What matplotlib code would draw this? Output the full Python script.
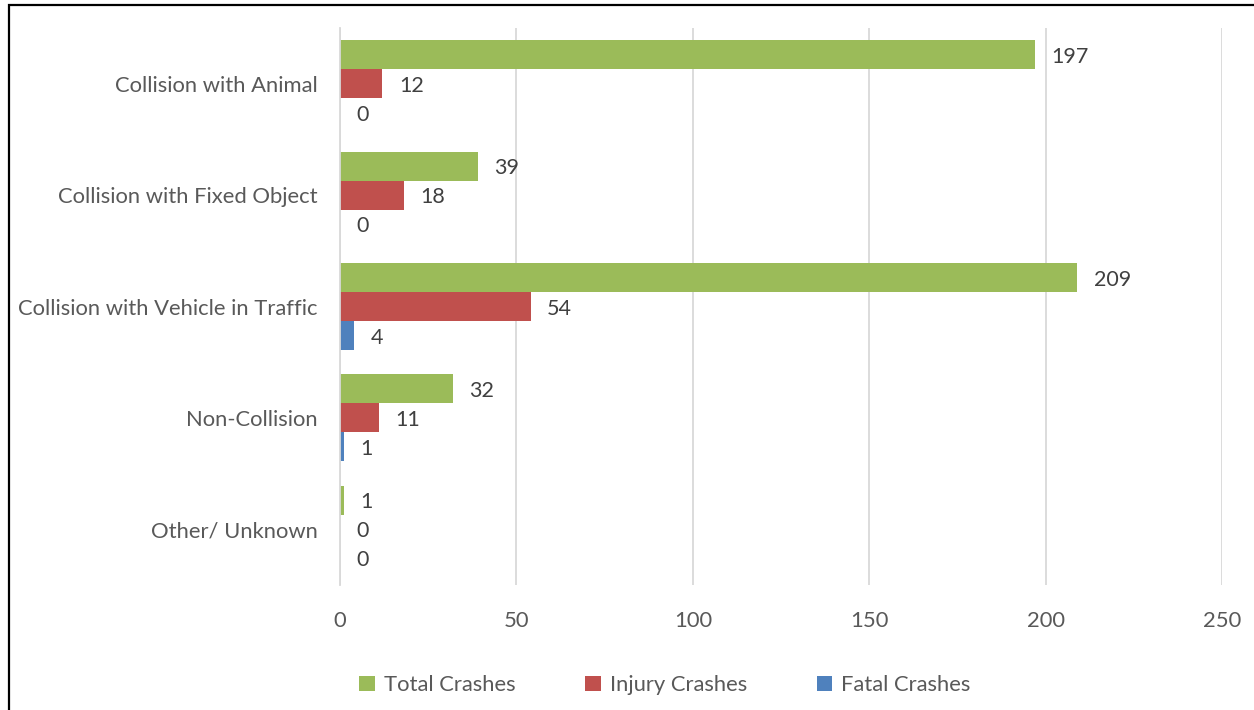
import numpy as np
import matplotlib.pyplot as plt
from matplotlib.patches import Rectangle

categories = ['Collision with Animal', 'Collision with Fixed Object',
              'Collision with Vehicle in Traffic', 'Non-Collision', 'Other/ Unknown']
total_crashes = [197, 39, 209, 32, 1]
injury_crashes = [12, 18, 54, 11, 0]
fatal_crashes = [0, 0, 4, 1, 0]
series_names = ['Total Crashes', 'Injury Crashes', 'Fatal Crashes']
colors = ['#9BBB59', '#C0504D', '#4F81BD']
xticks = [0, 50, 100, 150, 200, 250]

plt.rcParams['font.family'] = ['Lato', 'DejaVu Sans']

W, H = 1254, 710
fig = plt.figure(figsize=(W / 100, H / 100), dpi=100)
ax = fig.add_axes([340 / W, 1 - 585 / H, (1222 - 340) / W, (585 - 28) / H])

y = np.arange(len(categories))
bh = 0.26
series = [total_crashes, injury_crashes, fatal_crashes]
for i, (vals, name, c) in enumerate(zip(series, series_names, colors)):
    pos = y + (i - 1) * bh
    ax.barh(pos, vals, height=bh, color=c, label=name)
    for p, v in zip(pos, vals):
        ax.annotate(str(v), (v, p), xytext=(12, -1.5), textcoords='offset points',
                    va='center', ha='left', fontsize=15.5, color='#404040')

ax.set_ylim(len(categories) - 0.5, -0.5)
ax.set_xlim(0, 250)
ax.set_xticks(xticks)
ax.set_yticks(y)
ax.set_yticklabels(categories)
ax.tick_params(axis='both', length=0, labelsize=15.8, labelcolor='#595959')
ax.tick_params(axis='y', pad=16)
ax.tick_params(axis='x', pad=19)
ax.grid(axis='x', color='#D9D9D9', linewidth=1.3)
ax.set_axisbelow(True)
for s in ['top', 'right', 'bottom']:
    ax.spines[s].set_visible(False)
ax.spines['left'].set_color('#D9D9D9')
ax.spines['left'].set_linewidth(1.3)

fig.legend(loc='center', bbox_to_anchor=(665 / W, 1 - 685 / H), ncol=3,
           frameon=False, fontsize=15.8, labelcolor='#595959',
           handlelength=0.7, handleheight=0.7, handletextpad=0.4, columnspacing=3.2)

# outer frame, clipped at right and bottom like the source
fig.patches.append(Rectangle((8.5 / W, -0.1), 1.2, 1 - 4.5 / H + 0.1,
                             transform=fig.transFigure, fill=False,
                             edgecolor='black', linewidth=1.6))

fig.savefig('out.png', dpi=100)
